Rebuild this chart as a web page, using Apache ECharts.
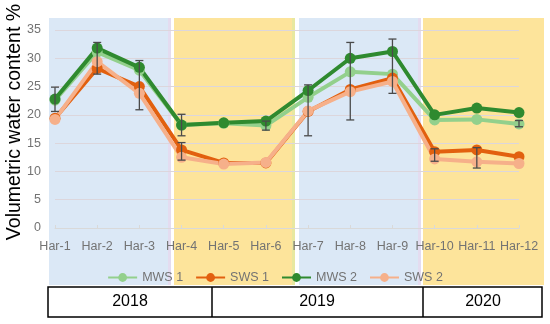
<!DOCTYPE html>
<html><head><meta charset="utf-8">
<script src="https://cdn.jsdelivr.net/npm/echarts@6/dist/echarts.min.js"></script>
<style>html,body{margin:0;padding:0;background:#fff}#c{width:550px;height:324px}</style>
</head><body><div id="c"></div>
<script>
const categories = ['Har-1','Har-2','Har-3','Har-4','Har-5','Har-6','Har-7','Har-8','Har-9','Har-10','Har-11','Har-12'];
const mws1 = [22.6, 31.1, 27.9, 18.2, 18.5, 18.1, 23.1, 27.6, 27.2, 19.1, 19.2, 18.4];
const sws1 = [19.4, 28.2, 25.0, 13.8, 11.5, 11.5, 20.6, 24.5, 26.5, 13.5, 13.8, 12.6];
const mws2 = [22.8, 31.8, 28.4, 18.2, 18.6, 18.9, 24.3, 30.0, 31.2, 20.0, 21.2, 20.4];
const sws2 = [19.2, 29.4, 23.8, 12.5, 11.3, 11.6, 20.7, 24.1, 25.9, 12.2, 11.7, 11.4];
// error bars: category index, low, high
const errIdx  = [0,    1,    2,    3,    3,    5,    6,    7,    8,    9,    10,   11];
const errLow  = [20.6, 27.2, 20.9, 16.3, 12.0, 17.3, 16.3, 19.1, 23.8, 11.8, 10.6, 17.9];
const errHigh = [24.9, 32.8, 29.6, 20.1, 15.1, 18.9, 25.3, 32.8, 33.4, 14.0, 14.2, 19.0];
const years = ['2018','2019','2020'];
const yTitle = 'Volumetric water content %';

const chart = echarts.init(document.getElementById('c'));
const FONT = 'Liberation Sans';
const errData = errIdx.map((c,i)=>[c, errLow[i], errHigh[i]]);
function mk(name, data, color, w){
  return {name, type:'line', data, color, symbol:'circle', symbolSize:11,
    lineStyle:{width:w, color}, itemStyle:{color}, z:3};
}
chart.setOption({
  animation:false,
  textStyle:{fontFamily:FONT},
  grid:{left:55, right:31, top:30, bottom:96},
  xAxis:{type:'category', data:categories, boundaryGap:false,
    axisLine:{lineStyle:{color:'#d9d9d9', width:1}},
    axisTick:{show:true, inside:true, length:3, lineStyle:{color:'#d9d9d9'}},
    axisLabel:{color:'#737373', fontSize:12.5, margin:12, fontFamily:FONT, interval:0},
    splitLine:{show:false}},
  yAxis:{type:'value', min:0, max:35, interval:5,
    axisLine:{show:false}, axisTick:{show:false},
    axisLabel:{color:'#737373', fontSize:12.5, margin:14, fontFamily:FONT},
    splitLine:{lineStyle:{color:'#dcd6dc', width:1}}},
  legend:{left:'center', top:266, itemWidth:29, itemHeight:11, itemGap:12,
    textStyle:{color:'#737373', fontSize:12.5, fontFamily:FONT},
    data:['MWS 1','SWS 1','MWS 2','SWS 2']},
  graphic:[
    {type:'rect', shape:{x:49,y:18,width:121,height:267}, style:{fill:'#dbe8f6'}, z:-10, silent:true},
    {type:'rect', shape:{x:168,y:18,width:3,height:267}, style:{fill:'#e4dcf0'}, z:-9, silent:true},
    {type:'rect', shape:{x:174,y:18,width:121,height:267}, style:{fill:'#fde49b'}, z:-10, silent:true},
    {type:'rect', shape:{x:292,y:18,width:3,height:267}, style:{fill:'#e8e8a0'}, z:-9, silent:true},
    {type:'rect', shape:{x:299,y:18,width:121,height:267}, style:{fill:'#dbe8f6'}, z:-10, silent:true},
    {type:'rect', shape:{x:418,y:18,width:3,height:267}, style:{fill:'#e4dcf0'}, z:-9, silent:true},
    {type:'rect', shape:{x:423,y:18,width:121,height:267}, style:{fill:'#fde49b'}, z:-10, silent:true},
    {type:'rect', shape:{x:48,y:287,width:494,height:30}, style:{fill:'#fff', stroke:'#000', lineWidth:1.5}, z:10},
    {type:'line', shape:{x1:212,y1:287,x2:212,y2:317}, style:{stroke:'#000', lineWidth:1.5}, z:11},
    {type:'line', shape:{x1:423,y1:287,x2:423,y2:317}, style:{stroke:'#000', lineWidth:1.5}, z:11},
    {type:'text', x:130, y:302, style:{text:years[0], font:'16px '+FONT, fill:'#000', textAlign:'center', textVerticalAlign:'middle'}, z:12},
    {type:'text', x:317, y:302, style:{text:years[1], font:'16px '+FONT, fill:'#000', textAlign:'center', textVerticalAlign:'middle'}, z:12},
    {type:'text', x:483, y:302, style:{text:years[2], font:'16px '+FONT, fill:'#000', textAlign:'center', textVerticalAlign:'middle'}, z:12},
    {type:'text', x:15, y:122, rotation:Math.PI/2, style:{text:yTitle, font:'19.5px '+FONT, fill:'#000', textAlign:'center', textVerticalAlign:'middle'}, z:12}
  ],
  series:[
    mk('MWS 1', mws1, '#93d08c', 4),
    mk('SWS 1', sws1, '#e2600f', 4),
    mk('MWS 2', mws2, '#2f8a2f', 4),
    mk('SWS 2', sws2, '#f6b08a', 4),
    {type:'custom', name:'err', data:errData, z:5, silent:true,
      renderItem:function(params, api){
        const x = api.value(0);
        const lo = api.coord([x, api.value(1)]);
        const hi = api.coord([x, api.value(2)]);
        const st = {stroke:'#4a4a4a', lineWidth:1.3};
        return {type:'group', children:[
          {type:'line', shape:{x1:lo[0],y1:lo[1],x2:hi[0],y2:hi[1]}, style:st},
          {type:'line', shape:{x1:lo[0]-4,y1:lo[1],x2:lo[0]+4,y2:lo[1]}, style:st},
          {type:'line', shape:{x1:hi[0]-4,y1:hi[1],x2:hi[0]+4,y2:hi[1]}, style:st}
        ]};
      }}
  ]
});
</script></body></html>
